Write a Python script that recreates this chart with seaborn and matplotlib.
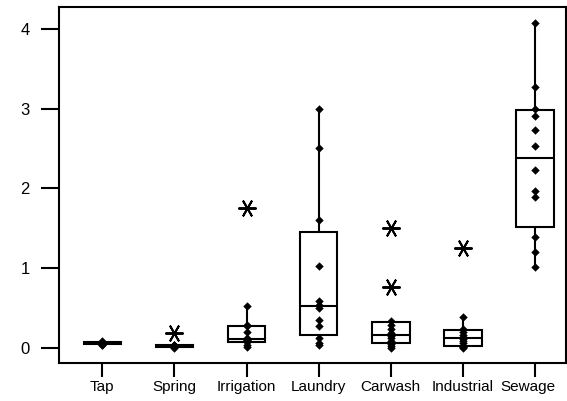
import numpy as np
import pandas as pd
import matplotlib
matplotlib.use("Agg")
import matplotlib.pyplot as plt
import matplotlib.transforms as mtransforms
import seaborn as sns

categories = ["Tap", "Spring", "Irrigation", "Laundry", "Carwash", "Industrial", "Sewage"]
tap = [0.03, 0.04, 0.05, 0.05, 0.06, 0.06, 0.07, 0.08]
spring = [0.0, 0.01, 0.02, 0.025, 0.03, 0.03, 0.035, 0.18]
irrigation = [0.01, 0.04, 0.07, 0.09, 0.10, 0.10, 0.12, 0.20, 0.27, 0.28, 0.52, 1.75]
laundry = [0.03, 0.055, 0.12, 0.27, 0.35, 0.50, 0.54, 0.58, 1.02, 1.6, 2.5, 3.0]
carwash = [0.0, 0.02, 0.05, 0.08, 0.12, 0.15, 0.18, 0.24, 0.29, 0.33, 0.76, 1.5]
industrial = [0.0, 0.01, 0.015, 0.06, 0.09, 0.11, 0.13, 0.16, 0.20, 0.23, 0.38, 1.25]
sewage = [1.01, 1.20, 1.39, 1.89, 1.97, 2.23, 2.53, 2.73, 2.91, 3.0, 3.27, 4.08]
yticks = [0, 1, 2, 3, 4]

groups = [tap, spring, irrigation, laundry, carwash, industrial, sewage]

# Box statistics (quartiles by (n+1)p rule, whiskers to data within 1.5 IQR)
stats = []
inliers = []
for name, vals in zip(categories, groups):
    v = np.asarray(vals, dtype=float)
    q1, med, q3 = np.percentile(v, [25, 50, 75], method="weibull")
    iqr = q3 - q1
    lo_f, hi_f = q1 - 1.5 * iqr, q3 + 1.5 * iqr
    inside = v[(v >= lo_f) & (v <= hi_f)]
    stats.append(dict(label=name, q1=q1, med=med, q3=q3,
                      whislo=inside.min(), whishi=inside.max(),
                      fliers=v[(v < lo_f) | (v > hi_f)]))
    inliers.append(pd.DataFrame({"category": name, "value": inside}))
df = pd.concat(inliers, ignore_index=True)

sns.set_style("ticks")
plt.rcParams["font.family"] = ["Liberation Sans", "DejaVu Sans"]

fig = plt.figure(figsize=(5.67, 4.01), dpi=100)
ax = fig.add_axes([59 / 567, 1 - 363 / 401, (566 - 59) / 567, (363 - 7) / 401])

sns.stripplot(data=df, x="category", y="value", order=categories, jitter=False,
              marker="D", color="black", size=4.3, linewidth=0, ax=ax, zorder=4)

ax.bxp(stats, positions=range(len(categories)), widths=0.52, patch_artist=True,
       showcaps=False, manage_ticks=False,
       boxprops=dict(facecolor="white", edgecolor="black", linewidth=1.5),
       medianprops=dict(color="black", linewidth=1.5),
       whiskerprops=dict(color="black", linewidth=1.5),
       flierprops=dict(marker=(6, 2, 90), markersize=13, markeredgecolor="black",
                       markeredgewidth=1.4, linestyle="none"))

ax.set_xlim(-0.6, 6.43)
ax.set_ylim(-0.192, 4.275)
ax.set_yticks(yticks)
ax.set_xticks(range(len(categories)))
ax.set_xticklabels(categories, fontsize=11)
ax.set_yticklabels([str(t) for t in yticks], fontsize=12)
ax.set_xlabel("")
ax.set_ylabel("")
for s in ax.spines.values():
    s.set_visible(True)
    s.set_linewidth(1.5)
    s.set_color("black")
ax.tick_params(axis="y", direction="out", length=13, width=1.5, pad=8, colors="black")
ax.tick_params(axis="x", direction="out", length=10, width=1.5, pad=2, colors="black")

# last label is nudged inward so it stays within the figure
last = ax.get_xticklabels()[-1]
last.set_transform(last.get_transform() +
                   mtransforms.ScaledTranslation(-7 / 100, 0, fig.dpi_scale_trans))

fig.savefig("out.png", dpi=100)
